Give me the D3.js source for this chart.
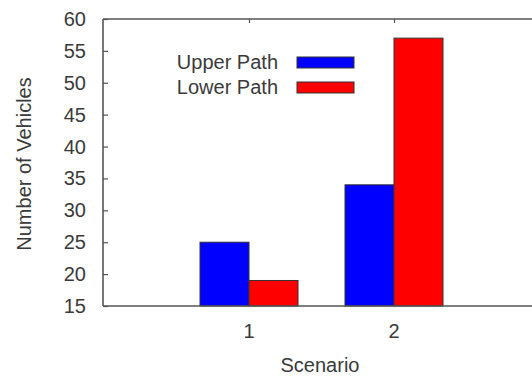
<!DOCTYPE html>
<html>
<head>
<meta charset="utf-8">
<script src="https://cdn.jsdelivr.net/npm/d3@7"></script>
<style>
  html, body { margin: 0; padding: 0; background: #fff; }
  svg { display: block; }
  text { font-family: "Liberation Sans", Arial, sans-serif; fill: #3a3a3a; }
</style>
</head>
<body>
<svg id="chart" width="532" height="376"></svg>
<script>
// ---- data ----
const categories = [1, 2];
const seriesNames = ["Upper Path", "Lower Path"];
const upperPath = [25, 34];
const lowerPath = [19, 57];
const yTicks = [15, 20, 25, 30, 35, 40, 45, 50, 55, 60];
const colors = ["#0000ff", "#ff0000"];

const svg = d3.select("#chart");
const x = d3.scaleLinear().domain([0, 3]).range([104, 539]);
const y = d3.scaleLinear().domain([15, 60]).range([306, 19]);
const inner = d3.scaleBand().domain(seriesNames).range([-49, 49]).padding(0);

const seriesValues = [upperPath, lowerPath];
const data = [];
categories.forEach((c, i) => {
  seriesNames.forEach((s, j) => data.push({ c, s, v: seriesValues[j][i], color: colors[j] }));
});

// bars
svg.append("g").selectAll("rect").data(data).join("rect")
  .attr("x", d => x(d.c) + inner(d.s))
  .attr("y", d => y(d.v))
  .attr("width", inner.bandwidth())
  .attr("height", d => y(15) - y(d.v))
  .attr("fill", d => d.color)
  .attr("stroke", "#333")
  .attr("stroke-width", 1);

const axisColor = "#555";
// left axis
const yAxis = svg.append("g").attr("transform", `translate(${x(0) - 1},0)`)
  .call(d3.axisRight(y).tickValues(yTicks).tickSize(5).tickFormat(""));
yAxis.select(".domain").remove();
yAxis.selectAll("line").attr("stroke", axisColor).attr("stroke-width", 1.2);
svg.append("g").selectAll("text").data(yTicks).join("text")
  .attr("x", 86).attr("y", d => y(d)).attr("dy", "0.35em")
  .attr("text-anchor", "end").attr("font-size", 20).text(d => d);

// top axis ticks (mirror)
const xTop = svg.append("g").attr("transform", `translate(0,${y(60)})`)
  .call(d3.axisBottom(x).tickValues(categories).tickSize(4).tickFormat(""));
xTop.select(".domain").remove();
xTop.selectAll("line").attr("stroke", axisColor).attr("stroke-width", 1.2);

// frame lines
svg.append("line").attr("x1", x(0) - 1).attr("x2", 532).attr("y1", y(60)).attr("y2", y(60))
  .attr("stroke", axisColor).attr("stroke-width", 1.6);
svg.append("line").attr("x1", x(0) - 1).attr("x2", 532).attr("y1", y(15)).attr("y2", y(15))
  .attr("stroke", axisColor).attr("stroke-width", 1.6);
svg.append("line").attr("x1", x(0) - 1).attr("x2", x(0) - 1).attr("y1", y(60)).attr("y2", y(15))
  .attr("stroke", axisColor).attr("stroke-width", 1.6);

// x tick labels
svg.append("g").selectAll("text").data(categories).join("text")
  .attr("x", d => x(d)).attr("y", 331).attr("dy", "0.35em")
  .attr("text-anchor", "middle").attr("font-size", 20).text(d => d);

// axis titles
svg.append("text").attr("x", 320).attr("y", 372).attr("text-anchor", "middle")
  .attr("font-size", 20).text("Scenario");
svg.append("text").attr("transform", "translate(31,164) rotate(-90)")
  .attr("text-anchor", "middle").attr("font-size", 20).text("Number of Vehicles");

// legend
const legend = svg.append("g").selectAll("g").data(seriesNames).join("g")
  .attr("transform", (d, i) => `translate(0,${i * 25})`);
legend.append("text").attr("x", 278).attr("y", 69).attr("text-anchor", "end")
  .attr("font-size", 20).text(d => d);
legend.append("rect").attr("x", 297).attr("y", 57).attr("width", 57).attr("height", 11)
  .attr("fill", (d, i) => colors[i]).attr("stroke", "#333").attr("stroke-width", 1);
</script>
</body>
</html>
